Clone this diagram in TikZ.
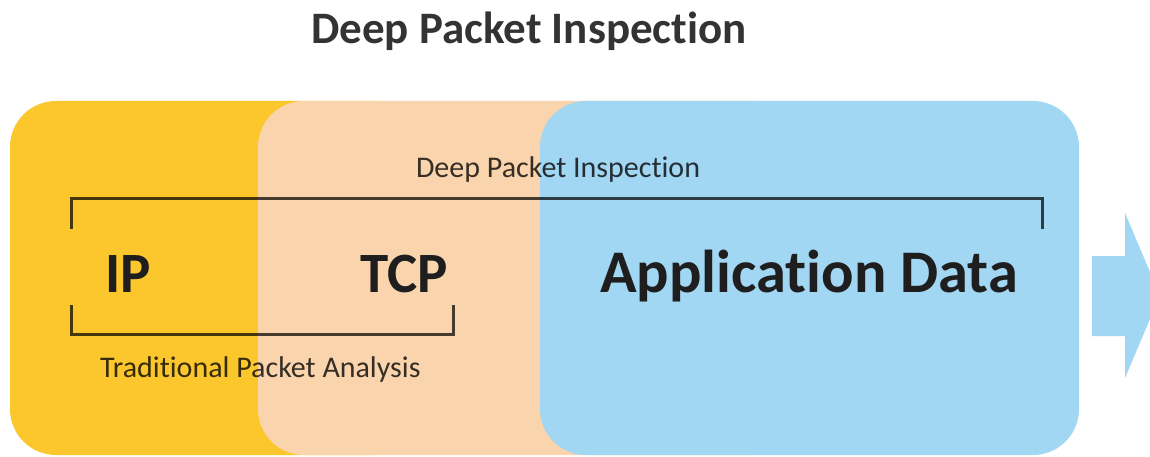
\documentclass[tikz,border=0pt]{standalone}
\usepackage{fontspec}
\setmainfont{Carlito}[Ligatures=NoCommon]
\definecolor{dpiyellow}{HTML}{FCC72C}
\definecolor{dpipeach}{HTML}{F9D4AC}
\definecolor{dpiblue}{HTML}{A2D7F3}
\definecolor{dpiink}{HTML}{1E1E1E}
\begin{document}
\begin{tikzpicture}[x=1pt,y=-1pt,
  bigword/.style={font=\fontsize{57}{60}\selectfont\bfseries,text=dpiink,inner sep=0pt,anchor=base west},
  smallword/.style={font=\fontsize{30}{33}\selectfont,text=black,text opacity=0.78,inner sep=0pt,anchor=base west},
  bracket/.style={draw=black,draw opacity=0.72,line width=3pt}]
\useasboundingbox (0,0) rectangle (1150,457);
\fill[white] (0,0) rectangle (1150,457);

% title
\node[font=\fontsize{45}{50}\selectfont\bfseries,text=black,text opacity=0.8,inner sep=0pt,anchor=base]
  (title) at (529,44) {Deep Packet Inspection};

% overlapping header layers
\fill[dpiyellow,rounded corners=46pt] (10,101) rectangle (420,455);
\fill[dpipeach,rounded corners=46pt] (258,101) rectangle (800,455);
\fill[dpiblue,rounded corners=46pt] (540,101) rectangle (1079,455);

% layer names
\node[bigword] (ip) at (105,292) {IP};
\node[bigword] (tcp) at (360,292) {TCP};
\node[bigword,font=\fontsize{60.5}{64}\selectfont\bfseries] (app) at (600,292) {Application Data};

% bracket over the whole packet
\coordinate (dpiL) at (71,229);
\coordinate (dpiR) at (1042,229);
\draw[bracket] (dpiL) -- ++(0,-31) -| (dpiR);
\node[smallword,anchor=base] (dpilabel) at (558,178) {Deep Packet Inspection};

% bracket under the headers only
\coordinate (tpaL) at (71,305);
\coordinate (tpaR) at (453,305);
\draw[bracket] (tpaL) -- ++(0,29) -| (tpaR);
\node[smallword] (tpalabel) at (100,377) {Traditional Packet Analysis};

% direction arrow
\fill[dpiblue] (1092,256) -- (1125,256) -- (1125,213) -- (1160,295.5)
  -- (1125,378) -- (1125,336) -- (1092,336) -- cycle;
\end{tikzpicture}
\end{document}
